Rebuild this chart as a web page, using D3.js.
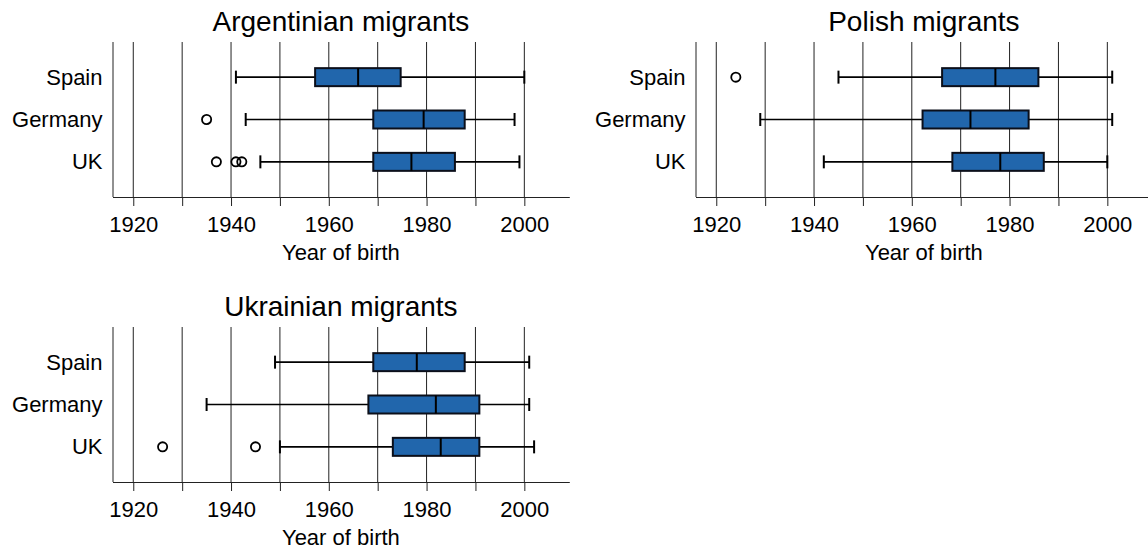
<!DOCTYPE html>
<html>
<head>
<meta charset="utf-8">
<script src="https://cdn.jsdelivr.net/npm/d3@7"></script>
<style>
  body { margin: 0; background: #fff; }
  svg { display: block; font-family: "Liberation Sans", Arial, sans-serif; }
</style>
</head>
<body>
<svg id="chart" width="1148" height="551"></svg>
<script>
// rows of every panel, top to bottom
var countries = ["Spain", "Germany", "UK"];
var xTicks = [1920, 1930, 1940, 1950, 1960, 1970, 1980, 1990, 2000];
var xLabels = ["1920", "", "1940", "", "1960", "", "1980", "", "2000"];

// [whisker low, q1, median, q3, whisker high] per country
var argentinianBoxes = [
    [1941, 1957.2, 1966, 1974.7, 2000],
    [1943, 1969.1, 1979.4, 1987.8, 1998],
    [1946, 1969.1, 1976.9, 1985.8, 1999]
];
var argentinianOutliers = [[], [1935], [1937, 1941, 1942.2]];

var polishBoxes = [
    [1945, 1966.2, 1977.1, 1985.9, 2001],
    [1929, 1962.2, 1972, 1983.9, 2001],
    [1942, 1968.3, 1978.1, 1987, 2000]
];
var polishOutliers = [[1924], [], []];

var ukrainianBoxes = [
    [1949, 1969.1, 1978, 1987.8, 2001],
    [1935, 1968.1, 1981.9, 1990.8, 2001],
    [1950, 1973.1, 1982.9, 1990.8, 2002]
];
var ukrainianOutliers = [[], [], [1926, 1945]];

var svg = d3.select("#chart");

// plot area of one panel (window.top is taken, so these get a prefix)
var plotLeft = 112.5, plotRight = 569.3, plotTop = 42, plotBottom = 197;
var x = d3.scaleLinear().domain([1915.75, 2009.2]).range([plotLeft, plotRight]);
var y = d3.scalePoint().domain(countries).range([plotTop, plotBottom]).padding(0.83);

function panel(dx, dy, title, boxes, outliers) {
    var g = svg.append("g").attr("transform", "translate(" + dx + "," + dy + ")");

    // grid lines go the full height, axis ticks poke below
    g.append("g").selectAll("line").data(xTicks).join("line")
        .attr("x1", d => x(d)).attr("x2", d => x(d))
        .attr("y1", plotTop).attr("y2", plotBottom)
        .attr("stroke", "#222").attr("stroke-width", 1);

    var xAxis = d3.axisBottom(x)
        .tickValues(xTicks)
        .tickFormat((d, i) => xLabels[i])
        .tickSizeInner(9).tickSizeOuter(0).tickPadding(10);
    var ax = g.append("g").attr("transform", "translate(0," + plotBottom + ")").call(xAxis);
    ax.select(".domain").attr("stroke", "#222");
    ax.selectAll(".tick line").attr("stroke", "#222");
    ax.selectAll("text").attr("font-size", 22).attr("fill", "#000").attr("font-family", null);

    var yAxis = d3.axisLeft(y).tickSize(0).tickPadding(10);
    var ay = g.append("g").attr("transform", "translate(" + plotLeft + ",0)").call(yAxis);
    ay.select(".domain").attr("stroke", "#222").attr("d", "M0.5," + plotTop + "V" + plotBottom);
    ay.selectAll("text").attr("font-size", 22).attr("fill", "#000").attr("font-family", null);

    g.append("text").attr("x", (plotLeft + plotRight) / 2).attr("y", 31)
        .attr("text-anchor", "middle").attr("font-size", 28).text(title);
    g.append("text").attr("x", (plotLeft + plotRight) / 2).attr("y", 260)
        .attr("text-anchor", "middle").attr("font-size", 22).text("Year of birth");

    var rows = g.append("g").selectAll("g").data(boxes).join("g")
        .attr("transform", (d, i) => "translate(0," + y(countries[i]) + ")");

    rows.append("line").attr("x1", d => x(d[0])).attr("x2", d => x(d[1]))
        .attr("stroke", "#000").attr("stroke-width", 1.6);
    rows.append("line").attr("x1", d => x(d[3])).attr("x2", d => x(d[4]))
        .attr("stroke", "#000").attr("stroke-width", 1.6);
    rows.append("line").attr("x1", d => x(d[0])).attr("x2", d => x(d[0]))
        .attr("y1", -6.5).attr("y2", 6.5).attr("stroke", "#000").attr("stroke-width", 2);
    rows.append("line").attr("x1", d => x(d[4])).attr("x2", d => x(d[4]))
        .attr("y1", -6.5).attr("y2", 6.5).attr("stroke", "#000").attr("stroke-width", 2);
    rows.append("rect")
        .attr("x", d => x(d[1])).attr("width", d => x(d[3]) - x(d[1]))
        .attr("y", -9).attr("height", 18)
        .attr("fill", "#2166ac").attr("stroke", "#0b0f1a").attr("stroke-width", 2);
    rows.append("line").attr("x1", d => x(d[2])).attr("x2", d => x(d[2]))
        .attr("y1", -9).attr("y2", 9).attr("stroke", "#000").attr("stroke-width", 2);

    rows.each(function(d, i) {
        d3.select(this).selectAll("circle").data(outliers[i]).join("circle")
            .attr("cx", v => x(v)).attr("cy", 0).attr("r", 4.6)
            .attr("fill", "none").attr("stroke", "#000").attr("stroke-width", 1.8);
    });
}

panel(0, 0, "Argentinian migrants", argentinianBoxes, argentinianOutliers);
panel(583, 0, "Polish migrants", polishBoxes, polishOutliers);
panel(0, 285, "Ukrainian migrants", ukrainianBoxes, ukrainianOutliers);
</script>
</body>
</html>
